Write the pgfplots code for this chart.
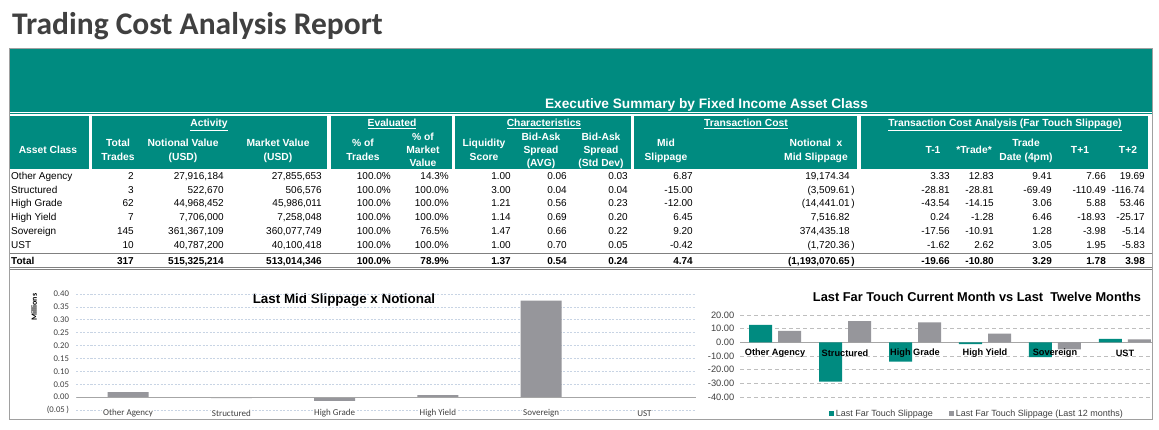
\documentclass[border=0pt]{standalone}
\usepackage{pgfplots}
\pgfplotsset{compat=1.18}
\usepackage{fontspec}
\setmainfont{Liberation Sans}
\newfontfamily\calibri{Carlito}
\definecolor{tealc}{RGB}{0,139,128}
\definecolor{barg}{RGB}{150,150,155}
\definecolor{titleg}{RGB}{64,64,64}
\definecolor{bordg}{RGB}{160,160,160}
\definecolor{gridb}{RGB}{200,212,228}
\definecolor{gridg}{RGB}{190,190,190}
\definecolor{txtg}{RGB}{64,64,64}
\def\redges{{134,224,322,391,449,511,567,628,693,855,950,994,1052,1106,1145}}
\newcommand\trow[4]{%
  \node[anchor=base west,inner sep=0,font=#2] at (11,#1+3.6) {#3};
  \foreach \v [count=\i] in {#4}{%
    \pgfmathsetmacro\re{\redges[\i-1]}%
    \node[anchor=base east,inner sep=0,font=#2] at (\re,#1+3.6) {\v};}%
}
\newcommand\hd[3]{\foreach \t [count=\k] in {#3}{\node[anchor=base,inner sep=0,text=white,font=\bfseries\fontsize{10.3}{12}\selectfont] at (#1,{#2+3.7+(\k-1)*13.3}) {\t};}}
\newcommand\gh[2]{\node[anchor=base,inner sep=0,text=white,font=\bfseries\fontsize{10.3}{12}\selectfont] at (#1,126.7) {\underline{#2}};}
\begin{document}
\begin{tikzpicture}[x=1pt,y=1pt]
\useasboundingbox (0,0) rectangle (1159,430);
\fill[white] (0,0) rectangle (1159,430);
\begin{scope}[shift={(0pt,430pt)},y=-1pt]
\node[anchor=base west,inner sep=0,text=titleg,font=\calibri\bfseries\fontsize{31.5}{36}\selectfont] at (12,35) {Trading Cost Analysis Report};
\fill[tealc] (9,48) rectangle (1152,112);
\draw[tealc,line width=0.8pt] (9,113.8) -- (1152,113.8);
\foreach \a/\b in {10/89,92/327,331/452,455/631,634/857,861/1148} \fill[tealc] (\a,116) rectangle (\b,169);
\node[inner sep=0,text=white,font=\bfseries\fontsize{13.7}{16}\selectfont] at (706.5,105) {Executive Summary by Fixed Income Asset Class};
\gh{209}{Activity}
\gh{392}{Evaluated}
\gh{544}{Characteristics}
\gh{746}{Transaction Cost}
\gh{1005}{Transaction Cost Analysis (Far Touch Slippage)}
\hd{48}{150}{Asset Class}
\hd{118}{143.3}{Total,Trades}
\hd{183}{143.3}{Notional Value,(USD)}
\hd{278}{143.3}{Market Value,(USD)}
\hd{363}{143.3}{\% of,Trades}
\hd{423}{136.7}{\% of,Market,Value}
\hd{484}{143.3}{Liquidity,Score}
\hd{541}{136.7}{Bid-Ask,Spread,(AVG)}
\hd{601}{136.7}{Bid-Ask,Spread,(Std Dev)}
\hd{666}{143.3}{Mid,Slippage}
\hd{816}{143.3}{Notional\ \ x,Mid Slippage}
\hd{933}{150}{T-1}
\hd{974}{150}{*Trade*}
\hd{1026}{143.3}{Trade,Date (4pm)}
\hd{1080}{150}{T+1}
\hd{1128}{150}{T+2}
\trow{176}{\fontsize{10}{12}\selectfont}{Other Agency}{2,{27,916,184},{27,855,653},100.0\%,14.3\%,1.00,0.06,0.03,6.87,{19,174.34\hphantom{\,)}},3.33,12.83,9.41,7.66,19.69}
\trow{189.7}{\fontsize{10}{12}\selectfont}{Structured}{3,{522,670},{506,576},100.0\%,100.0\%,3.00,0.04,0.04,-15.00,{(3,509.61\,)},-28.81,-28.81,-69.49,-110.49,-116.74}
\trow{203.4}{\fontsize{10}{12}\selectfont}{High Grade}{62,{44,968,452},{45,986,011},100.0\%,100.0\%,1.21,0.56,0.23,-12.00,{(14,441.01\,)},-43.54,-14.15,3.06,5.88,53.46}
\trow{217.1}{\fontsize{10}{12}\selectfont}{High Yield}{7,{7,706,000},{7,258,048},100.0\%,100.0\%,1.14,0.69,0.20,6.45,{7,516.82\hphantom{\,)}},0.24,-1.28,6.46,-18.93,-25.17}
\trow{230.8}{\fontsize{10}{12}\selectfont}{Sovereign}{145,{361,367,109},{360,077,749},100.0\%,76.5\%,1.47,0.66,0.22,9.20,{374,435.18\hphantom{\,)}},-17.56,-10.91,1.28,-3.98,-5.14}
\trow{244.5}{\fontsize{10}{12}\selectfont}{UST}{10,{40,787,200},{40,100,418},100.0\%,100.0\%,1.00,0.70,0.05,-0.42,{(1,720.36\,)},-1.62,2.62,3.05,1.95,-5.83}
\trow{260.7}{\bfseries\fontsize{10}{12}\selectfont}{Total}{317,{515,325,214},{513,014,346},100.0\%,78.9\%,1.37,0.54,0.24,4.74,{(1,193,070.65\,)},-19.66,-10.80,3.29,1.78,3.98}
\draw[gray,line width=0.9pt] (9,253.5) -- (1152,253.5);
\draw[gray,line width=0.7pt] (9,267) -- (1152,267);
\draw[gray,line width=0.7pt] (9,269.5) -- (1152,269.5);
\draw[bordg,line width=0.8pt] (9,48) rectangle (1152,419);
\node[inner sep=0,font=\bfseries\fontsize{13.4}{16}\selectfont] at (344,300) {Last Mid Slippage x Notional};
\node[inner sep=0,font=\bfseries\fontsize{12.8}{15}\selectfont] at (977,297) {Last Far Touch Current Month vs Last\ \ Twelve Months};
\node[inner sep=0,rotate=90,font=\calibri\bfseries\fontsize{8}{10}\selectfont] at (34,307) {Millions};
\end{scope}
\begin{axis}[
  at={(76.5pt,20pt)}, anchor=south west,
  scale only axis, width=619.5pt, height=116pt,
  xmin=-0.5, xmax=5.5, ymin=-0.05, ymax=0.40,
  ybar, bar width=41pt,
  axis line style={draw=none}, tick style={draw=none},
  ymajorgrids, grid style={gridb, dash pattern=on 2pt off 1.5pt, line width=0.6pt},
  ytick={-0.05,0,0.05,0.1,0.15,0.2,0.25,0.3,0.35,0.4},
  yticklabels={(0.05\,),0.00,0.05,0.10,0.15,0.20,0.25,0.30,0.35,0.40},
  yticklabel style={font=\calibri\fontsize{8.7}{10}\selectfont, text=txtg, xshift=-4pt},
  xtick={0,...,5},
  xticklabels={Other Agency,Structured,High Grade,High Yield,Sovereign,UST},
  xticklabel style={font=\calibri\fontsize{9}{10}\selectfont, text=txtg, anchor=center, fill=white, inner sep=1pt, yshift=1pt},
]
\addplot[fill=barg, draw=none] coordinates {(0,0.01917) (1,-0.00351) (2,-0.01444) (3,0.00752) (4,0.37444) (5,-0.00172)};
\draw[gray!70, line width=0.7pt] (axis cs:-0.5,0) -- (axis cs:5.5,0);
\end{axis}
\begin{axis}[
  at={(740pt,33pt)}, anchor=south west,
  scale only axis, width=412pt, height=82pt,
  xmin=-0.5, xmax=5.386, ymin=-40, ymax=20,
  ybar=6pt, bar width=23pt,
  axis x line=middle, axis y line=left,
  x axis line style={-, draw=gray!70, line width=0.7pt}, y axis line style={draw=none},
  tick style={draw=none},
  ymajorgrids, grid style={gridg, dash pattern=on 4pt off 3pt, line width=0.6pt},
  ytick={-40,-30,-20,-10,0,10,20},
  yticklabels={-40.00,-30.00,-20.00,-10.00,0.00,10.00,20.00},
  yticklabel style={font=\fontsize{9.3}{11}\selectfont, text=txtg},
  xtick={0,...,5}, xticklabels={},
  legend style={at={(0.575,0)}, anchor=center, yshift=-17pt, draw=none, fill=none,
    font=\fontsize{9}{11}\selectfont, text=txtg, legend columns=2,
    /tikz/every even column/.append style={column sep=14pt}},
]
\addplot[fill=tealc, draw=none, legend image code/.code={\fill[tealc] (0pt,-2.5pt) rectangle (5pt,3pt);}] coordinates {(0,12.83) (1,-28.81) (2,-14.15) (3,-1.28) (4,-10.91) (5,2.62)};
\addlegendentry{Last Far Touch Slippage}
\addplot[fill=barg, draw=none, legend image code/.code={\fill[barg] (0pt,-2.5pt) rectangle (5pt,3pt);}] coordinates {(0,8.3) (1,15.6) (2,14.6) (3,6.4) (4,-5.1) (5,2.2)};
\addlegendentry{Last Far Touch Slippage (Last 12 months)}
\node[font=\bfseries\fontsize{9.2}{11}\selectfont, inner sep=0] at (axis cs:0,-8) {Other Agency};
\node[font=\bfseries\fontsize{9.2}{11}\selectfont, inner sep=0] at (axis cs:1,-8) {Structured};
\node[font=\bfseries\fontsize{9.2}{11}\selectfont, inner sep=0] at (axis cs:2,-8) {High Grade};
\node[font=\bfseries\fontsize{9.2}{11}\selectfont, inner sep=0] at (axis cs:3,-8) {High Yield};
\node[font=\bfseries\fontsize{9.2}{11}\selectfont, inner sep=0] at (axis cs:4,-8) {Sovereign};
\node[font=\bfseries\fontsize{9.2}{11}\selectfont, inner sep=0] at (axis cs:5,-8) {UST};
\end{axis}
\end{tikzpicture}
\end{document}
